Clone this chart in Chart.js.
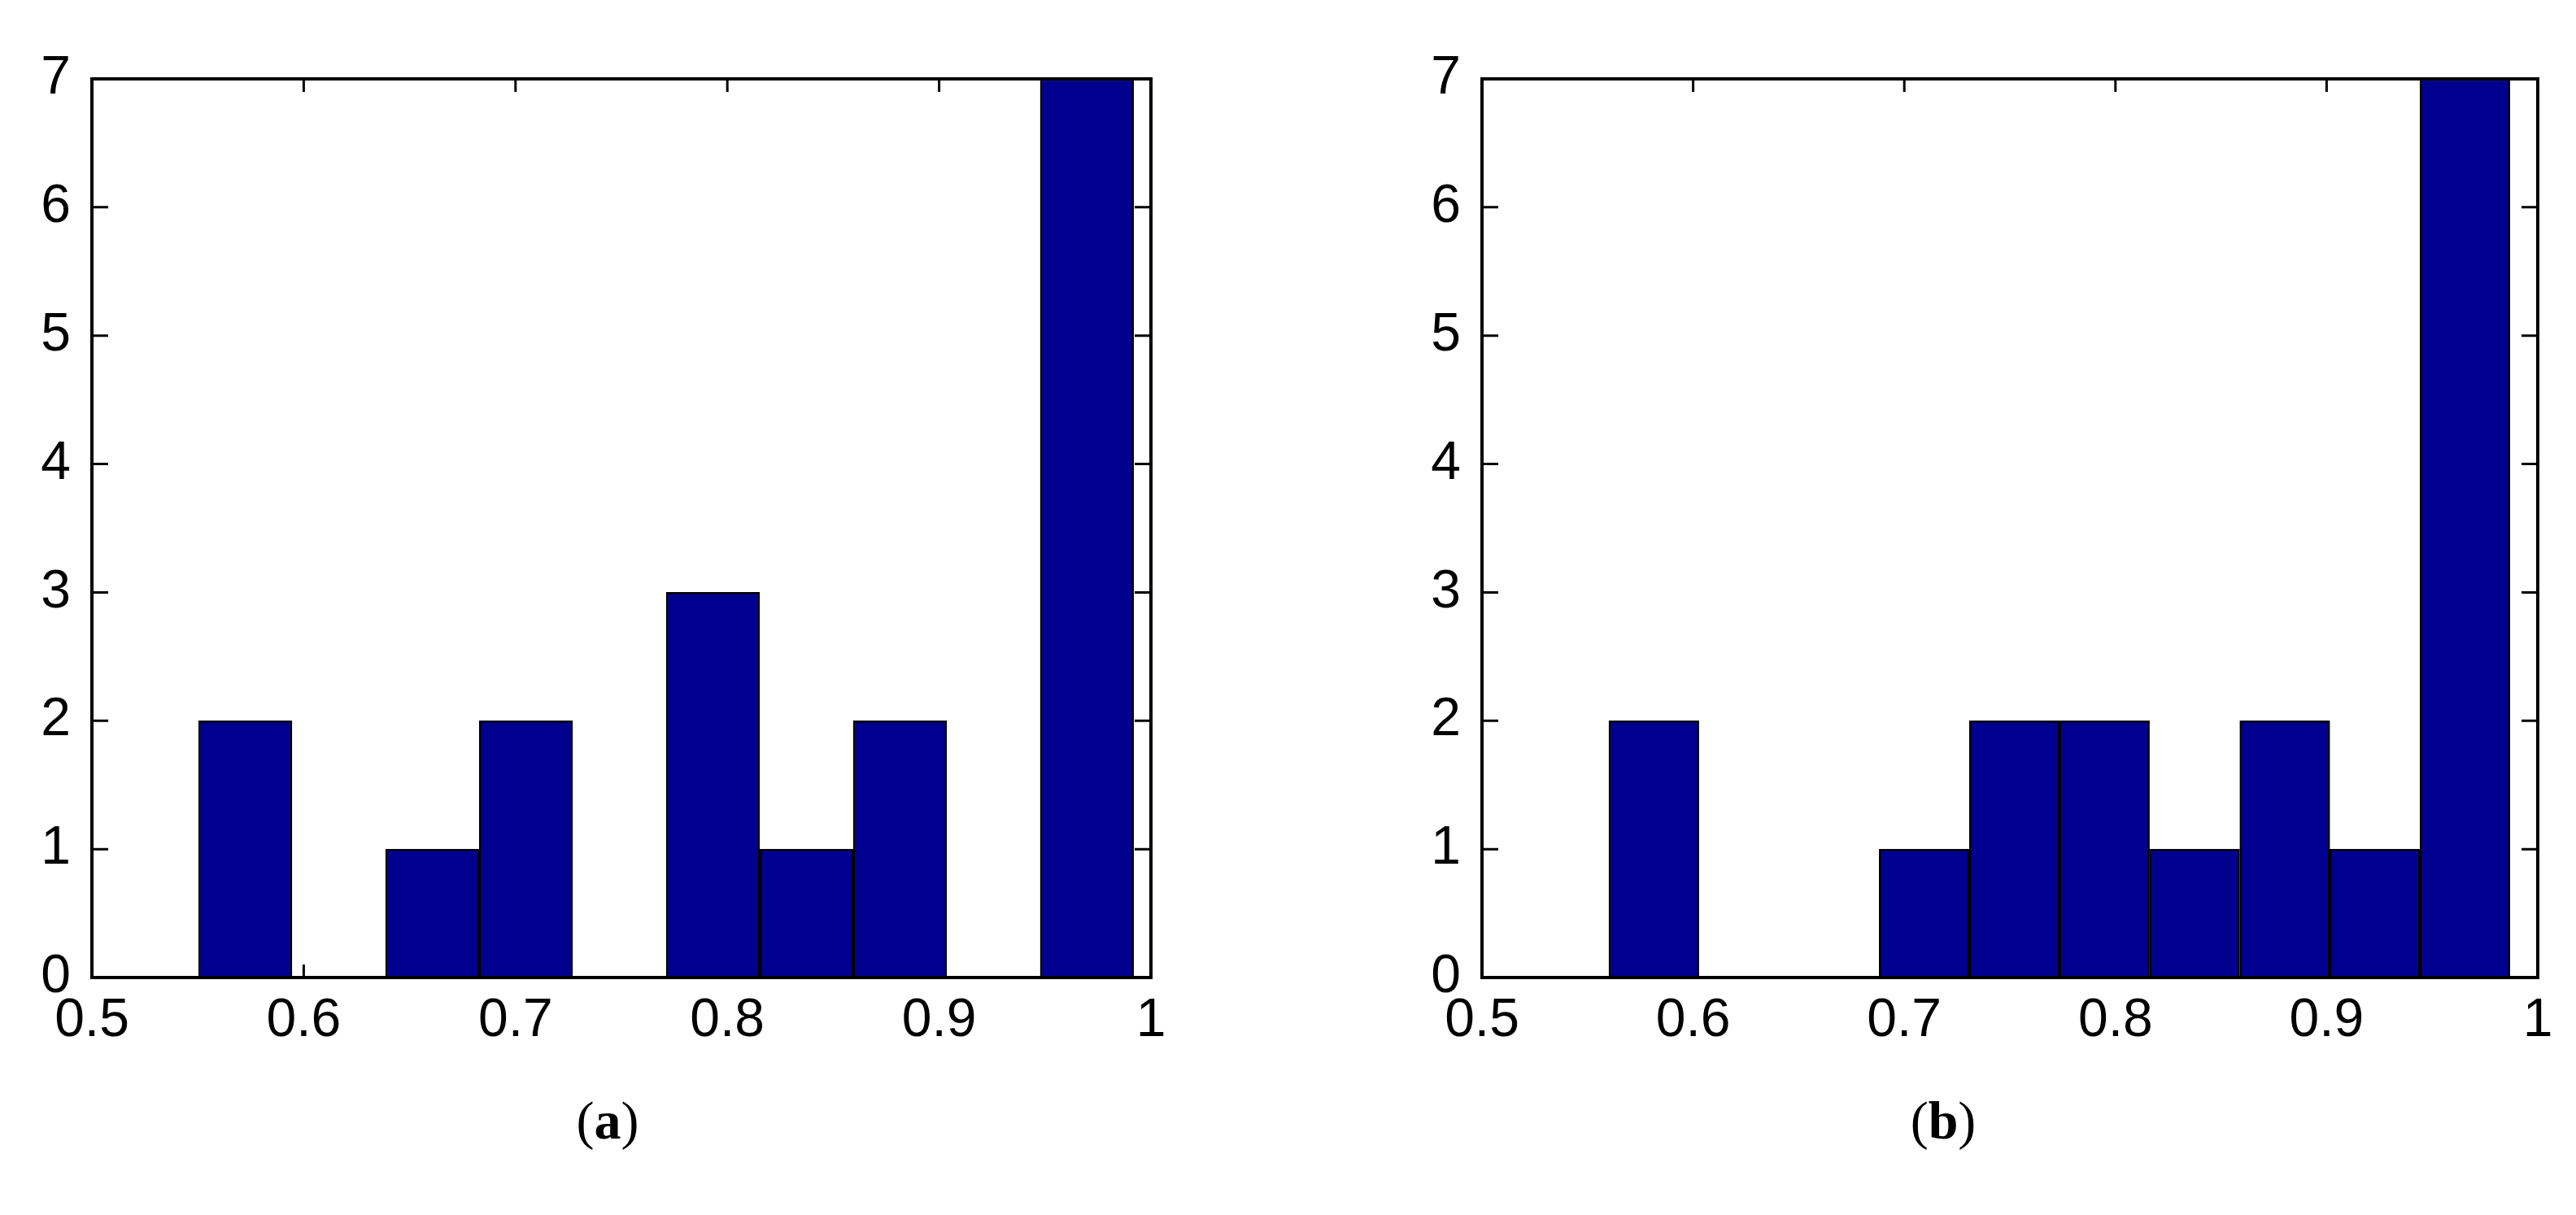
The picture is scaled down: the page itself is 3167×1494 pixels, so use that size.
<!DOCTYPE html>
<html>
<head>
<meta charset="utf-8">
<script src="https://cdn.jsdelivr.net/npm/chart.js@4/dist/chart.umd.min.js"></script>
<style>
  body { margin: 0; background: #fff; width: 3167px; height: 1494px; position: relative; overflow: hidden; }
  .panel { position: absolute; top: 0; }
  .cap { position: absolute; top: 1340px; font-family: "Liberation Serif", serif; font-size: 66px; color: #000; transform: translateX(-50%); }
</style>
</head>
<body>
<div class="panel" style="left:0px"><canvas id="histA" width="1500" height="1320"></canvas></div>
<div class="panel" style="left:1709px"><canvas id="histB" width="1458" height="1320"></canvas></div>
<div class="cap" style="left:747px">(<b>a</b>)</div>
<div class="cap" style="left:2389px">(<b>b</b>)</div>
<script>
// bin centres and counts
const binsA = [0.5724, 0.6166, 0.6607, 0.7049, 0.7490, 0.7932, 0.8374, 0.8815, 0.9257, 0.9698];
const countsA = [2, 0, 1, 2, 0, 3, 1, 2, 0, 7];
const binsB = [0.5814, 0.6241, 0.6668, 0.7094, 0.7521, 0.7948, 0.8375, 0.8802, 0.9228, 0.9655];
const countsB = [2, 0, 0, 1, 2, 2, 1, 2, 1, 7];
const xTicks = [0.5, 0.6, 0.7, 0.8, 0.9, 1];
const xTickLabels = ['0.5', '0.6', '0.7', '0.8', '0.9', '1'];
const yTicks = [0, 1, 2, 3, 4, 5, 6, 7];

// matlab style box with inward ticks on all four sides
const matlabAxes = {
  id: 'matlabAxes',
  beforeDatasetsDraw(chart) {
    const {ctx, chartArea: a, scales: {x, y}} = chart;
    ctx.save();
    ctx.strokeStyle = '#000';
    ctx.lineWidth = 3;
    ctx.beginPath();
    x.ticks.forEach(t => {
      const px = x.getPixelForValue(t.value);
      ctx.moveTo(px, a.bottom); ctx.lineTo(px, a.bottom - 16);
      ctx.moveTo(px, a.top); ctx.lineTo(px, a.top + 16);
    });
    y.ticks.forEach(t => {
      const py = y.getPixelForValue(t.value);
      ctx.moveTo(a.left, py); ctx.lineTo(a.left + 20, py);
      ctx.moveTo(a.right, py); ctx.lineTo(a.right - 20, py);
    });
    ctx.stroke();
    ctx.restore();
  },
  afterDatasetsDraw(chart) {
    const {ctx, chartArea: a} = chart;
    ctx.save();
    ctx.strokeStyle = '#000';
    ctx.lineWidth = 4;
    ctx.strokeRect(a.left, a.top, a.right - a.left, a.bottom - a.top);
    ctx.restore();
  }
};

function makeHist(id, bins, counts, rightPad) {
  new Chart(document.getElementById(id), {
    type: 'bar',
    data: {
      datasets: [{
        data: bins.map((b, i) => ({x: b, y: counts[i]})),
        backgroundColor: '#00008f',
        borderColor: '#000',
        borderWidth: 2.5,
        borderSkipped: 'bottom',
        categoryPercentage: 1,
        barPercentage: 1
      }]
    },
    options: {
      responsive: false,
      animation: false,
      layout: { padding: { top: 97, right: rightPad, left: 0, bottom: 0 } },
      plugins: { legend: { display: false }, tooltip: { enabled: false } },
      scales: {
        x: {
          type: 'linear',
          min: 0.5, max: 1,
          offset: false,
          grid: { display: false, drawTicks: false },
          border: { display: false },
          afterBuildTicks: s => { s.ticks = xTicks.map(v => ({value: v})); },
          afterFit: s => { s.height = 118; },
          ticks: {
            color: '#000',
            padding: 14,
            maxRotation: 0,
            autoSkip: false,
            font: { family: 'Liberation Sans', size: 66 },
            callback: (v, i) => xTickLabels[i]
          }
        },
        y: {
          min: 0, max: 7,
          grid: { display: false, drawTicks: false },
          border: { display: false },
          afterBuildTicks: s => { s.ticks = yTicks.map(v => ({value: v})); },
          afterFit: s => { s.width = 113; },
          ticks: {
            color: '#000',
            padding: 26,
            autoSkip: false,
            font: { family: 'Liberation Sans', size: 66 }
          }
        }
      }
    },
    plugins: [matlabAxes]
  });
}

makeHist('histA', binsA, countsA, 85);
makeHist('histB', binsB, countsB, 47);
</script>
</body>
</html>
